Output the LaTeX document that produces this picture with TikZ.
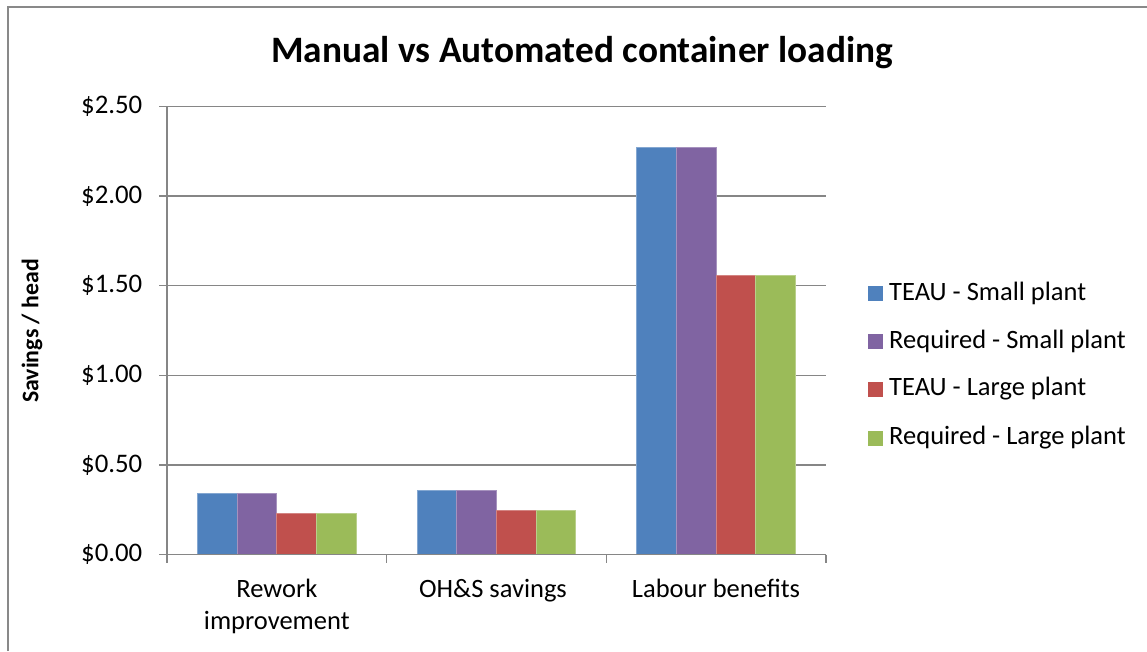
\documentclass[tikz,border=0pt]{standalone}
\usepackage{fontspec}
\setmainfont{Carlito}
\definecolor{cblue}{RGB}{79,129,189}
\definecolor{cpurple}{RGB}{128,100,162}
\definecolor{cred}{RGB}{192,80,77}
\definecolor{cgreen}{RGB}{155,187,89}
\definecolor{gridc}{RGB}{134,134,134}
\definecolor{framec}{RGB}{137,137,137}
\begin{document}
\begin{tikzpicture}[x=1pt,y=-1pt,
  gridline/.style={draw=gridc,line width=1.5pt},
  barb/.style={fill=#1,draw=#1!70!white,line width=0.8pt},
  ticklab/.style={anchor=east,inner sep=0pt,font=\fontsize{26.8}{32}\selectfont},
  catlab/.style={anchor=base,align=center,inner sep=0pt,font=\fontsize{26.5}{32}\selectfont},
  leglab/.style={anchor=west,inner sep=0pt,font=\fontsize{26.5}{32}\selectfont},
  legbox/.style={fill=#1,minimum size=15pt,inner sep=0pt}]
\useasboundingbox (0,0) rectangle (1147,651);
\fill[white] (0,0) rectangle (1147,651);
% outer frame
\draw[framec,line width=2pt] (8,651) -- (8,7) -- (1147,7);
% title
\node[font=\bfseries\fontsize{37.3}{44}\selectfont,anchor=center,inner sep=0pt] (title) at (582,53) {Manual vs Automated container loading};
% y axis title
\node[font=\bfseries\fontsize{23.8}{28}\selectfont,rotate=90,anchor=center,inner sep=0pt] (ytitle) at (32,331) {Savings / head};
% gridlines and ticks
\foreach \v/\lab in {0/\$0.00,1/\$0.50,2/\$1.00,3/\$1.50,4/\$2.00,5/\$2.50}{
  \pgfmathsetmacro{\yy}{554.5-89.6*\v}
  \coordinate (gl\v) at (159,\yy);
  \coordinate (gr\v) at (826,\yy);
  \draw[gridline] (gl\v) -- (gr\v);
  \node[ticklab] (yl\v) at (142.5,\yy) {\lab};
}
% y axis
\coordinate (yaxtop) at (167,106.5);
\coordinate (yaxbot) at (167,554.5);
\draw[gridline] (yaxtop) -- (yaxbot);
% x ticks
\foreach \i in {0,1,2,3}{
  \pgfmathsetmacro{\xx}{167+219.67*\i}
  \coordinate (xt\i a) at (\xx,554.5);
  \coordinate (xt\i b) at (\xx,563);
  \draw[gridline] (xt\i a) -- (xt\i b);
}
% bars
\def\bw{39.7}
\foreach \g/\va/\vb in {0/0.342/0.232,1/0.36/0.247,2/2.272/1.56}{
  \pgfmathsetmacro{\xs}{167+219.67*\g+30.3}
  \pgfmathsetmacro{\ya}{554.5-179.2*\va}
  \pgfmathsetmacro{\yb}{554.5-179.2*\vb}
  \draw[barb=cblue] (\xs,554.5) rectangle ++(\bw,\ya-554.5);
  \draw[barb=cpurple] (\xs+\bw,554.5) rectangle ++(\bw,\ya-554.5);
  \draw[barb=cred] (\xs+2*\bw,554.5) rectangle ++(\bw,\yb-554.5);
  \draw[barb=cgreen] (\xs+3*\bw,554.5) rectangle ++(\bw,\yb-554.5);
}
\draw[gridline] (gl0) -- (gr0);
% category labels
\node[catlab] (c1a) at (276.8,597) {Rework};
\node[catlab] (c1b) at (276.8,629) {improvement};
\node[catlab] (c2) at (493,597) {OH\&S savings};
\node[catlab] (c3) at (716,597) {Labour benefits};
% legend
\foreach \col/\lab/\yy [count=\k] in {cblue/TEAU - Small plant/293,cpurple/Required - Small plant/341,cred/TEAU - Large plant/389,cgreen/Required - Large plant/438}{
  \node[legbox=\col] (lb\k) at (875.5,\yy) {};
  \node[leglab] (lt\k) at (889,\yy) {\lab};
}
\end{tikzpicture}
\end{document}
